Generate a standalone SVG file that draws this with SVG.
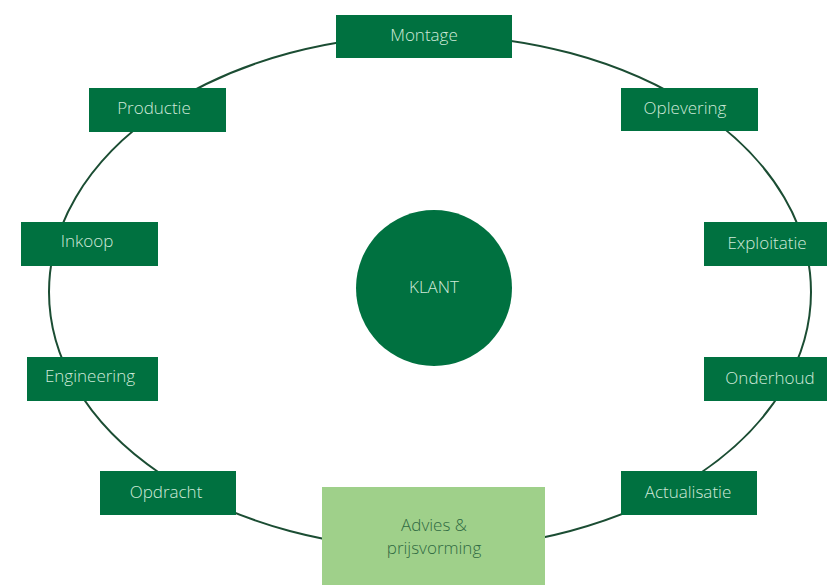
<svg xmlns="http://www.w3.org/2000/svg" width="827" height="585" viewBox="0 0 827 585">
<style>
.box{fill:#007140}
.lbl{font-family:"Open Sans","Liberation Sans",sans-serif;font-weight:300;font-size:17px;fill:#cfe9d9;text-anchor:middle}
.ring{fill:none;stroke:#1b4d33;stroke-width:2}
.adv{fill:#9fd08a}
.advt{font-family:"Open Sans","Liberation Sans",sans-serif;font-weight:300;font-size:17px;fill:#2f6a42;text-anchor:middle}
</style>
<rect width="827" height="585" fill="#ffffff"/>
<g id="connectors">
<ellipse class="ring" cx="430" cy="292" rx="381" ry="257"/>
</g>
<g id="klant">
<circle cx="434" cy="288" r="78" fill="#007140"/>
<text class="lbl" x="434" y="293">KLANT</text>
</g>
<g id="montage">
<rect class="box" x="336" y="15" width="176" height="43"/>
<text class="lbl" x="424" y="41">Montage</text>
</g>
<g id="productie">
<rect class="box" x="89" y="88" width="137" height="44"/>
<text class="lbl" x="154" y="114">Productie</text>
</g>
<g id="oplevering">
<rect class="box" x="621" y="88" width="137" height="43"/>
<text class="lbl" x="685" y="114">Oplevering</text>
</g>
<g id="inkoop">
<rect class="box" x="21" y="222" width="137" height="44"/>
<text class="lbl" x="87" y="247">Inkoop</text>
</g>
<g id="exploitatie">
<rect class="box" x="704" y="222" width="123" height="44"/>
<text class="lbl" x="767" y="249">Exploitatie</text>
</g>
<g id="engineering">
<rect class="box" x="27" y="357" width="131" height="44"/>
<text class="lbl" x="90" y="382">Engineering</text>
</g>
<g id="onderhoud">
<rect class="box" x="704" y="357" width="123" height="44"/>
<text class="lbl" x="770" y="384">Onderhoud</text>
</g>
<g id="opdracht">
<rect class="box" x="100" y="471" width="136" height="44"/>
<text class="lbl" x="166" y="498">Opdracht</text>
</g>
<g id="actualisatie">
<rect class="box" x="621" y="471" width="136" height="44"/>
<text class="lbl" x="688" y="498">Actualisatie</text>
</g>
<g id="advies">
<rect class="adv" x="322" y="487" width="223" height="98"/>
<text class="advt" x="434" y="531">Advies &amp;</text>
<text class="advt" x="434" y="554">prijsvorming</text>
</g>
</svg>
